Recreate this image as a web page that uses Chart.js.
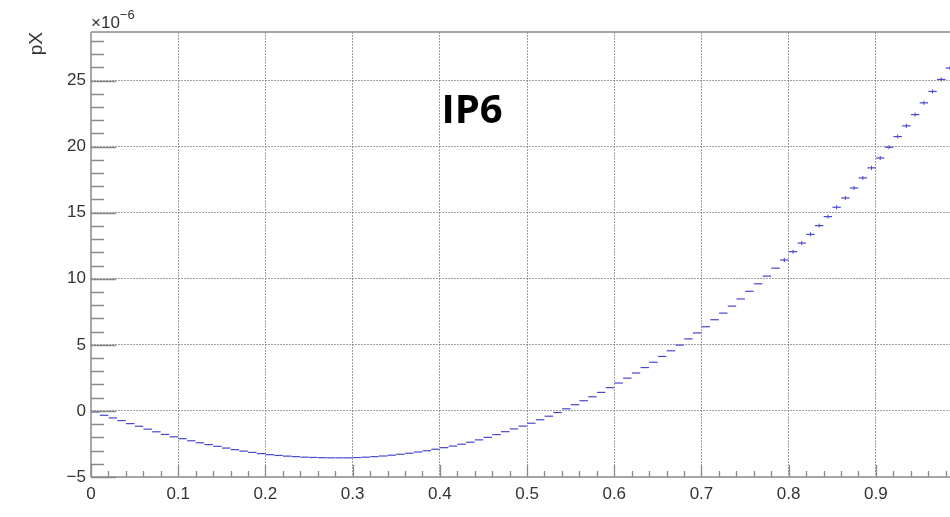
<!DOCTYPE html>
<html>
<head>
<meta charset="utf-8">
<script src="https://cdn.jsdelivr.net/npm/chart.js@4.4.1/dist/chart.umd.min.js"></script>
<style>
  html, body { margin: 0; padding: 0; background: #fff; }
  #wrap { width: 950px; height: 517px; }
</style>
</head>
<body>
<div id="wrap"><canvas id="myChart" width="950" height="517"></canvas></div>
<script>
// bin width 0.01, bin centres 0.005 ... 0.985 (values in units of 1e-6)
const binWidth = 0.01;
const pX = [
  -0.08, -0.33, -0.53, -0.73, -0.96, -1.16, -1.38, -1.58, -1.78, -1.96,
  -2.10, -2.26, -2.41, -2.55, -2.68, -2.81, -2.93, -3.04, -3.14, -3.23,
  -3.31, -3.37, -3.42, -3.46, -3.50, -3.52, -3.54, -3.55, -3.55, -3.55,
  -3.53, -3.50, -3.46, -3.41, -3.35, -3.28, -3.20, -3.11, -3.01, -2.90,
  -2.78, -2.66, -2.52, -2.37, -2.19, -2.00, -1.79, -1.57, -1.36, -1.15,
  -0.93, -0.67, -0.40, -0.12, 0.16, 0.47, 0.77, 1.07, 1.40, 1.76,
  2.11, 2.48, 2.87, 3.28, 3.68, 4.12, 4.55, 4.98, 5.45, 5.90,
  6.37, 6.90, 7.40, 7.93, 8.47, 9.05, 9.62, 10.20, 10.80, 11.42,
  12.05, 12.70, 13.36, 14.02, 14.70, 15.41, 16.11, 16.87, 17.63, 18.39,
  19.14, 19.95, 20.76, 21.57, 22.42, 23.31, 24.17, 25.08, 25.94
];
const xTicks = [0, 0.1, 0.2, 0.3, 0.4, 0.5, 0.6, 0.7, 0.8, 0.9];
const yTicks = [-5, 0, 5, 10, 15, 20, 25];
const title = 'IP6';
const yTitle = 'pX';

const points = pX.map((v, i) => ({x: (i + 0.5) * binWidth, y: v}));

const lineColor = 'rgb(70, 70, 205)';
const gridColor = 'rgba(120, 120, 120, 0.7)';
const axisColor = '#8a8a8a';

// ROOT style frame, inner ticks and text
const rootStyle = {
  id: 'rootStyle',
  afterDraw(chart) {
    const c = chart.ctx;
    const a = chart.chartArea;
    const xs = chart.scales.x;
    const ys = chart.scales.y;
    c.save();
    c.strokeStyle = axisColor;
    c.lineWidth = 1.5;
    // frame top and left/bottom
    c.beginPath();
    c.moveTo(a.left, a.top); c.lineTo(a.right, a.top);
    c.moveTo(a.left, a.top); c.lineTo(a.left, a.bottom);
    c.moveTo(a.left, a.bottom); c.lineTo(a.right, a.bottom);
    c.stroke();
    // y ticks
    c.lineWidth = 1.3;
    c.beginPath();
    for (let v = -5; v <= 28; v++) {
      const py = Math.round(ys.getPixelForValue(v)) + 0.5;
      const len = v % 5 === 0 ? 25 : 13;
      c.moveTo(a.left, py); c.lineTo(a.left + len, py);
    }
    // x ticks
    for (let k = 0; k <= 49; k++) {
      const v = k * 0.02;
      if (v > xs.max) break;
      const px = Math.round(xs.getPixelForValue(v)) + 0.5;
      const len = k % 5 === 0 ? 12 : 6;
      c.moveTo(px, a.bottom); c.lineTo(px, a.bottom - len);
    }
    c.stroke();

    // exponent label
    c.fillStyle = '#333';
    c.textBaseline = 'alphabetic';
    c.textAlign = 'left';
    c.font = '17px "Liberation Sans", Arial, sans-serif';
    c.fillText('\u00d710', a.left, 28);
    const w = c.measureText('\u00d710').width;
    c.font = '13px "Liberation Sans", Arial, sans-serif';
    c.fillText('\u22126', a.left + w, 19);

    // y title
    c.save();
    c.translate(42, a.top);
    c.rotate(-Math.PI / 2);
    c.textAlign = 'right';
    c.font = '19px "Liberation Sans", Arial, sans-serif';
    c.fillText(yTitle, 0, 0);
    c.restore();

    // chart title
    c.fillStyle = '#000';
    c.textAlign = 'center';
    c.font = 'bold 40px "Open Sans", "Noto Sans", sans-serif';
    c.fillText(title, 472, 123);
    c.restore();
  }
};

const ctx = document.getElementById('myChart').getContext('2d');
const myChart = new Chart(ctx, {
  type: 'scatter',
  data: {
    datasets: [{
      data: points,
      showLine: false,
      pointStyle: 'line',
      pointRadius: 4.2,
      pointBorderWidth: 1.2,
      borderColor: lineColor,
      backgroundColor: lineColor
    },
    {
      // small vertical error marks on the steep part
      data: points,
      showLine: false,
      pointStyle: 'line',
      rotation: 90,
      pointRadius: (c) => (c.raw && c.raw.x > 0.79 ? 2 : 0),
      pointBorderWidth: 1,
      borderColor: lineColor
    }]
  },
  options: {
    responsive: false,
    animation: false,
    layout: { autoPadding: false, padding: { left: 0, right: 0, top: 32, bottom: 0 } },
    plugins: { legend: { display: false }, tooltip: { enabled: false } },
    scales: {
      x: {
        type: 'linear',
        min: 0,
        max: 0.985,
        afterBuildTicks: (s) => { s.ticks = xTicks.map(v => ({value: v})); },
        afterFit: (s) => { s.height = 40; s.paddingLeft = 0; s.paddingRight = 0; },
        grid: { color: (c) => c.tick && c.tick.value === 0 ? 'rgba(0,0,0,0)' : gridColor, lineWidth: 1, drawTicks: false },
        border: { display: false, dash: [2, 1] },
        ticks: {
          padding: 7,
          color: '#333',
          maxRotation: 0,
          font: { family: '"Liberation Sans", Arial, sans-serif', size: 17 },
          callback: (v) => String(Math.round(v * 10) / 10)
        }
      },
      y: {
        min: -5,
        max: 28.67,
        afterBuildTicks: (s) => { s.ticks = yTicks.map(v => ({value: v})); },
        afterFit: (s) => { s.width = 91; s.paddingTop = 0; s.paddingBottom = 0; },
        grid: { color: (c) => c.tick && c.tick.value === -5 ? 'rgba(0,0,0,0)' : gridColor, lineWidth: 1, drawTicks: false },
        border: { display: false, dash: [2, 1] },
        ticks: {
          padding: 5,
          color: '#333',
          font: { family: '"Liberation Sans", Arial, sans-serif', size: 17 },
          callback: (v) => (v < 0 ? '\u2212' + Math.abs(v) : String(v))
        }
      }
    }
  },
  plugins: [rootStyle]
});
</script>
</body>
</html>
